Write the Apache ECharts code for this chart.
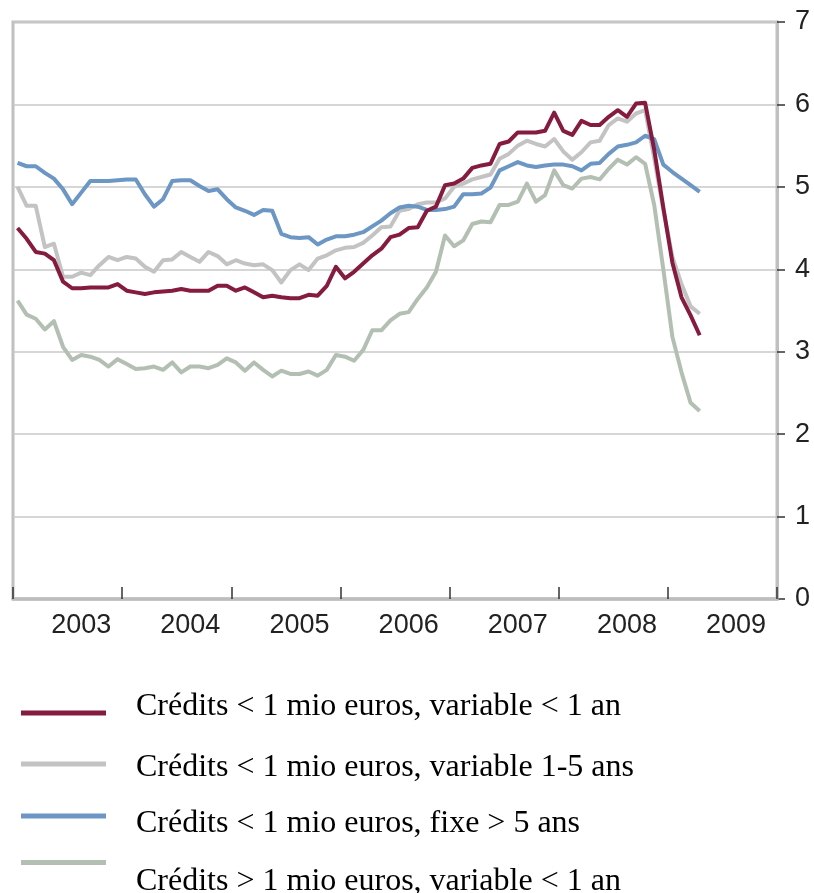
<!DOCTYPE html>
<html>
<head>
<meta charset="utf-8">
<script src="https://cdn.jsdelivr.net/npm/echarts@6/dist/echarts.min.js"></script>
<style>
html,body{margin:0;padding:0;background:#fff;}
#chart{width:814px;height:893px;}
</style>
</head>
<body>
<div id="chart"></div>
<script>
// Monthly categories Jan 2003 .. Dec 2009 (axis runs to Jan 2010)
var years = ['2003','2004','2005','2006','2007','2008','2009'];
var categories = [];
years.forEach(function (y) {
  for (var m = 1; m <= 12; m++) categories.push(y + '-' + (m < 10 ? '0' + m : m));
});

var seriesNames = [
  'Crédits < 1 mio euros, variable < 1 an',
  'Crédits < 1 mio euros, variable 1-5 ans',
  'Crédits < 1 mio euros, fixe > 5 ans',
  'Crédits > 1 mio euros, variable < 1 an'
];

// Jan 2003 .. Apr 2009 (76 months)
var smallVar1 = [
  4.50, 4.37, 4.21, 4.19, 4.11, 3.85, 3.77, 3.77, 3.78, 3.78, 3.78, 3.82, 3.74, 3.72, 3.70, 3.72,
  3.73, 3.74, 3.76, 3.74, 3.74, 3.74, 3.80, 3.80, 3.74, 3.78, 3.72, 3.66, 3.68, 3.66, 3.65,
  3.65, 3.69, 3.68, 3.80, 4.03, 3.89, 3.97, 4.07, 4.17, 4.25, 4.39, 4.42, 4.50, 4.51, 4.71, 4.76,
  5.02, 5.04, 5.10, 5.23, 5.26, 5.28, 5.52, 5.55, 5.66, 5.66, 5.66, 5.68, 5.90, 5.68, 5.63,
  5.80, 5.75, 5.75, 5.85, 5.93, 5.85, 6.01, 6.02, 5.45, 4.75, 4.08, 3.66, 3.44, 3.20
];
var smallVar15 = [
  5.00, 4.77, 4.77, 4.27, 4.31, 3.91, 3.91, 3.96, 3.93, 4.05, 4.15, 4.11, 4.15, 4.13, 4.03, 3.97,
  4.11, 4.12, 4.21, 4.15, 4.09, 4.21, 4.16, 4.06, 4.11, 4.07, 4.05, 4.06, 3.99, 3.84, 3.99,
  4.06, 3.99, 4.13, 4.17, 4.23, 4.26, 4.27, 4.32, 4.41, 4.51, 4.52, 4.71, 4.73, 4.79, 4.81, 4.81,
  4.86, 5.00, 5.04, 5.09, 5.12, 5.15, 5.34, 5.40, 5.50, 5.56, 5.52, 5.49, 5.58, 5.43, 5.33,
  5.42, 5.54, 5.56, 5.75, 5.83, 5.79, 5.89, 5.93, 5.35, 4.72, 4.15, 3.82, 3.55, 3.46
];
var smallFix5 = [
  5.29, 5.25, 5.25, 5.17, 5.10, 4.97, 4.79, 4.93, 5.07, 5.07, 5.07, 5.08, 5.09, 5.09, 4.91, 4.76,
  4.85, 5.07, 5.08, 5.08, 5.01, 4.95, 4.97, 4.85, 4.75, 4.71, 4.66, 4.72, 4.71, 4.43, 4.39,
  4.38, 4.39, 4.30, 4.36, 4.40, 4.40, 4.42, 4.45, 4.52, 4.59, 4.68, 4.75, 4.77, 4.76, 4.72, 4.72,
  4.73, 4.76, 4.91, 4.91, 4.92, 4.99, 5.20, 5.25, 5.30, 5.26, 5.24, 5.26, 5.27, 5.27, 5.25,
  5.20, 5.28, 5.29, 5.40, 5.49, 5.51, 5.54, 5.62, 5.58, 5.27, 5.18, 5.10, 5.02, 4.94
];
var largeVar1 = [
  3.62, 3.45, 3.40, 3.27, 3.37, 3.06, 2.90, 2.96, 2.94, 2.90, 2.82, 2.91, 2.85, 2.79, 2.80, 2.82,
  2.78, 2.87, 2.75, 2.82, 2.82, 2.80, 2.84, 2.92, 2.87, 2.77, 2.87, 2.78, 2.70, 2.77, 2.73,
  2.73, 2.76, 2.71, 2.78, 2.96, 2.94, 2.89, 3.02, 3.26, 3.26, 3.38, 3.46, 3.48, 3.64, 3.78, 3.97,
  4.41, 4.28, 4.35, 4.55, 4.58, 4.57, 4.78, 4.78, 4.82, 5.04, 4.82, 4.90, 5.20, 5.02, 4.98,
  5.10, 5.12, 5.09, 5.22, 5.33, 5.27, 5.36, 5.28, 4.78, 4.00, 3.18, 2.75, 2.38, 2.28
];

var yTicks = [0, 1, 2, 3, 4, 5, 6, 7];
var colors = ['#861b40', '#c3c3c3', '#6c96c3', '#b4bfb3'];
var dataList = [smallVar1, smallVar15, smallFix5, largeVar1];
// draw order: light lines first, maroon on top
var drawOrder = [3, 1, 2, 0];

var chart = echarts.init(document.getElementById('chart'), null, {renderer: 'canvas'});

var legendTops = [691, 752, 808, 860];
var textPads = [[0, 0, 12, 25], [8, 0, 0, 25], [16, 0, 0, 25], [38, 0, 0, 25]];
var legends = seriesNames.map(function (n, i) {
  return {
    data: [n],
    left: 21,
    top: legendTops[i],
    padding: 0,
    icon: 'rect',
    itemWidth: 85,
    itemHeight: 5,
    selectedMode: false,
    formatter: '{t|{name}}',
    textStyle: {
      fontFamily: 'Liberation Serif',
      fontSize: 32,
      color: '#000',
      rich: {
        t: {
          fontFamily: 'Liberation Serif',
          fontSize: 32,
          color: '#000',
          padding: textPads[i]
        }
      }
    }
  };
});

var series = drawOrder.map(function (i) {
  return {
    name: seriesNames[i],
    type: 'line',
    data: dataList[i],
    showSymbol: false,
    symbol: 'none',
    smooth: false,
    lineStyle: {color: colors[i], width: 4, join: 'round'},
    itemStyle: {color: colors[i]},
    z: 3
  };
});

chart.setOption({
  animation: false,
  backgroundColor: '#fff',
  color: colors,
  grid: {
    left: 13, right: 37, top: 22, bottom: 294,
    outerBoundsMode: 'none',
    show: true,
    borderColor: '#c0c0c0',
    borderWidth: 3
  },
  legend: legends,
  xAxis: {
    type: 'category',
    data: categories,
    boundaryGap: true,
    z: 5,
    axisLine: {show: true, lineStyle: {color: '#bdbdbd', width: 3.5}},
    axisTick: {show: true, inside: true, length: 12, interval: 11, lineStyle: {color: '#333', width: 1.5}},
    axisLabel: {
      interval: function (idx) { return idx % 12 === 7; },
      formatter: function (v) { return v.slice(0, 4); },
      fontFamily: 'Liberation Sans',
      fontSize: 27,
      color: '#222',
      margin: 13
    },
    splitLine: {show: false}
  },
  yAxis: {
    type: 'value',
    position: 'right',
    min: 0,
    max: 7,
    interval: 1,
    axisLine: {show: true, lineStyle: {color: '#c0c0c0', width: 3}},
    axisTick: {show: true, inside: false, length: 8, lineStyle: {color: '#333', width: 1.5}},
    axisLabel: {
      fontFamily: 'Liberation Sans',
      fontSize: 27,
      color: '#222',
      margin: 18,
      formatter: function (v) { return yTicks.indexOf(v) >= 0 ? String(v) : ''; }
    },
    splitLine: {show: true, lineStyle: {color: '#c8c8c8', width: 1.5}}
  },
  series: series
});
</script>
</body>
</html>
